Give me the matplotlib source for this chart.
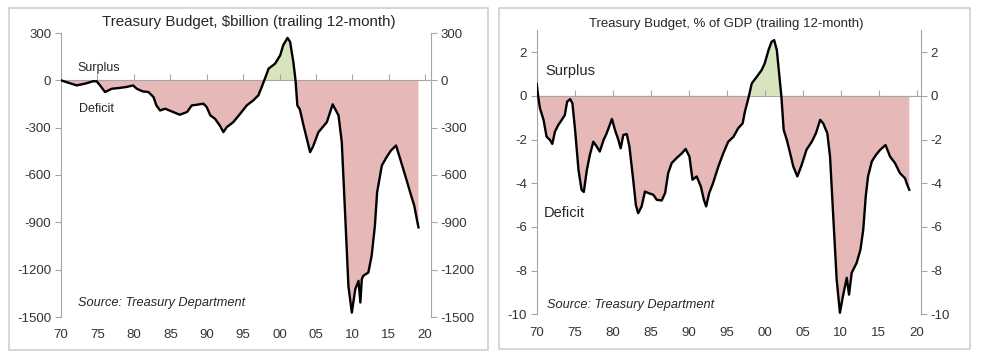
import matplotlib
matplotlib.use("Agg")
import matplotlib.pyplot as plt
import numpy as np
from matplotlib.patches import Rectangle

plt.rcParams['font.family'] = ['Liberation Sans', 'DejaVu Sans']
plt.rcParams['axes.unicode_minus'] = False

# ---- Data: Treasury budget, $billion (trailing 12-month) ----
years_bn = [1970.0, 1971.0, 1972.15, 1973.3, 1974.4, 1974.9, 1975.36, 1976.04, 1977.0, 1977.9,
            1979.0, 1979.9, 1980.4, 1981.2, 1982.0, 1982.7, 1983.1, 1983.6, 1984.3, 1985.2,
            1986.3, 1987.3, 1987.95, 1988.6, 1989.55, 1990.0, 1990.5, 1991.15, 1991.8, 1992.3,
            1992.75, 1993.65, 1994.6, 1995.5, 1996.4, 1997.1, 1997.56, 1998.0, 1998.5, 1999.4,
            2000.1, 2000.5, 2001.1, 2001.45, 2001.9, 2002.2, 2002.45, 2002.8, 2003.3, 2003.75,
            2004.2, 2004.6, 2005.35, 2006.5, 2007.3, 2008.1, 2008.55, 2009.0, 2009.46, 2009.93,
            2010.4, 2010.85, 2011.1, 2011.3, 2011.5, 2012.2, 2012.65, 2013.1, 2013.4, 2014.05,
            2014.7, 2015.3, 2016.0, 2016.57, 2017.4, 2017.94, 2018.5, 2018.85, 2019.08]
budget_bn = [0, -15, -32, -21, -6, -6, -32, -74, -53, -49,
             -42, -32, -53, -70, -74, -106, -159, -191, -180, -197,
             -218, -201, -159, -155, -148, -169, -222, -244, -286, -328,
             -297, -265, -212, -159, -127, -95, -42, 11, 74, 106,
             159, 222, 269, 244, 117, 0, -159, -185, -286, -370,
             -455, -420, -328, -265, -152, -222, -392, -837, -1303, -1472,
             -1324, -1271, -1408, -1260, -1239, -1218, -1112, -921, -710, -540,
             -487, -445, -413, -498, -625, -710, -794, -879, -932]

# ---- Data: Treasury budget, % of GDP (trailing 12-month) ----
years_pct = [1970.0, 1970.2, 1970.43, 1970.9, 1971.3, 1971.75, 1972.05, 1972.4, 1972.85, 1973.3,
             1973.7, 1974.0, 1974.4, 1974.7, 1975.05, 1975.5, 1975.9, 1976.2, 1976.6, 1977.0,
             1977.45, 1977.9, 1978.3, 1978.8, 1979.2, 1979.9, 1980.3, 1980.75, 1981.05, 1981.4,
             1981.85, 1982.2, 1982.7, 1983.05, 1983.35, 1983.8, 1984.25, 1984.7, 1985.35, 1985.8,
             1986.45, 1986.9, 1987.3, 1987.76, 1988.4, 1989.1, 1989.6, 1990.1, 1990.5, 1991.05,
             1991.6, 1992.0, 1992.3, 1992.7, 1993.2, 1993.9, 1994.55, 1995.2, 1995.9, 1996.5,
             1997.1, 1997.4, 1997.85, 1998.3, 1998.95, 1999.6, 2000.0, 2000.5, 2000.9, 2001.25,
             2001.6, 2001.9, 2002.2, 2002.5, 2002.9, 2003.4, 2003.77, 2004.3, 2004.87, 2005.5,
             2006.2, 2006.75, 2007.3, 2007.7, 2008.24, 2008.6, 2009.0, 2009.47, 2009.9, 2010.3,
             2010.8, 2011.1, 2011.45, 2012.1, 2012.6, 2012.97, 2013.3, 2013.6, 2014.1, 2014.65,
             2015.2, 2015.9, 2016.5, 2017.15, 2017.8, 2018.46, 2018.76, 2019.03]
budget_pct = [0.55, -0.04, -0.57, -1.1, -1.87, -2.02, -2.2, -1.64, -1.33, -1.1,
              -0.88, -0.27, -0.15, -0.34, -1.56, -3.39, -4.3, -4.4, -3.39, -2.7,
              -2.1, -2.32, -2.55, -2.02, -1.72, -1.06, -1.56, -2.02, -2.4, -1.79,
              -1.75, -2.32, -3.85, -5.0, -5.37, -5.07, -4.38, -4.45, -4.53, -4.76,
              -4.79, -4.45, -3.54, -3.08, -2.85, -2.63, -2.43, -2.78, -3.84, -3.69,
              -4.15, -4.76, -5.06, -4.45, -4.0, -3.24, -2.63, -2.1, -1.87, -1.49,
              -1.26, -0.72, -0.12, 0.57, 0.87, 1.18, 1.48, 2.09, 2.47, 2.55,
              2.09, 1.03, -0.04, -1.56, -2.0, -2.7, -3.24, -3.69, -3.16, -2.47,
              -2.1, -1.71, -1.1, -1.26, -1.71, -2.78, -5.37, -8.4, -9.93, -9.17,
              -8.33, -9.1, -8.1, -7.65, -7.04, -6.13, -4.6, -3.69, -3.0, -2.7,
              -2.47, -2.25, -2.78, -3.08, -3.54, -3.77, -4.07, -4.3]

x_ticks = [1970, 1975, 1980, 1985, 1990, 1995, 2000, 2005, 2010, 2015, 2020]
x_labels = ['70', '75', '80', '85', '90', '95', '00', '05', '10', '15', '20']
yticks_bn = [300, 0, -300, -600, -900, -1200, -1500]
yticks_pct = [2, 0, -2, -4, -6, -8, -10]

PINK = '#E6B9B8'
GREEN = '#D7E4BD'
SPINE = '#A6A6A6'
TXT = '#333333'

W, H = 981, 357
fig = plt.figure(figsize=(W / 100, H / 100), dpi=100)

# panel borders
for (x0, y0, x1, y1) in [(9, 8, 488, 350), (499, 8, 970, 349)]:
    fig.patches.append(Rectangle((x0 / W, 1 - y1 / H), (x1 - x0) / W, (y1 - y0) / H,
                                 transform=fig.transFigure, fill=False,
                                 edgecolor='#D0D0D0', linewidth=1.2))


def make_panel(rect, xs, ys, xlim, ylim, yticks, title, title_xy, title_size,
               surplus_xy, deficit_xy, label_size, source_xy):
    ax = fig.add_axes(rect)
    xs = np.asarray(xs, dtype=float)
    ys = np.asarray(ys, dtype=float)
    ax.fill_between(xs, ys, 0, where=ys <= 0, interpolate=True, color=PINK, linewidth=0, zorder=1)
    ax.fill_between(xs, ys, 0, where=ys >= 0, interpolate=True, color=GREEN, linewidth=0, zorder=1)
    ax.plot(xs, ys, color='black', linewidth=1.7, zorder=3)
    ax.set_xlim(*xlim)
    ax.set_ylim(*ylim)

    # x axis line at zero with upward ticks, labels at bottom via secondary axis
    ax.spines['bottom'].set_position(('data', 0))
    ax.spines['bottom'].set_color(SPINE)
    ax.spines['bottom'].set_zorder(2)
    ax.spines['top'].set_visible(False)
    ax.spines['left'].set_color(SPINE)
    ax.spines['right'].set_color(SPINE)
    ax.set_xticks(x_ticks)
    ax.tick_params(axis='x', direction='in', length=4, color=SPINE, labelbottom=False)

    sec = ax.secondary_xaxis('bottom')
    sec.set_xticks(x_ticks)
    sec.set_xticklabels(x_labels)
    sec.tick_params(length=0, pad=9, labelsize=9.5, labelcolor=TXT)
    sec.spines['bottom'].set_visible(False)

    ax.set_yticks(yticks)
    ax.tick_params(axis='y', direction='out', length=4, color=SPINE, labelsize=9.5,
                   labelcolor=TXT, left=True, right=True, labelleft=True, labelright=True, pad=3)

    fig.text(title_xy[0] / W, 1 - title_xy[1] / H, title, ha='center', va='center',
             fontsize=title_size, color='#262626')
    fig.text(surplus_xy[0] / W, 1 - surplus_xy[1] / H, 'Surplus', ha='left', va='center',
             fontsize=label_size, color='#262626')
    fig.text(deficit_xy[0] / W, 1 - deficit_xy[1] / H, 'Deficit', ha='left', va='center',
             fontsize=label_size, color='#262626')
    fig.text(source_xy[0] / W, 1 - source_xy[1] / H, 'Source: Treasury Department', ha='left',
             va='center', fontsize=9.2, style='italic', color='#262626')
    return ax


make_panel([61 / W, 1 - 317 / H, 370 / W, 284 / H], years_bn, budget_bn,
           (1970, 2020.8), (-1500, 300), yticks_bn,
           'Treasury Budget, $billion (trailing 12-month)', (249, 22), 10.9,
           (77, 68), (79, 109), 9.0, (78, 303))

make_panel([536.7 / W, 1 - 314.3 / H, 384.3 / W, 284 / H], years_pct, budget_pct,
           (1970, 2020.57), (-10, 3), yticks_pct,
           'Treasury Budget, % of GDP (trailing 12-month)', (726, 24), 9.5,
           (545, 71), (544, 213), 10.5, (547, 305))

fig.savefig('out.png', dpi=100)
